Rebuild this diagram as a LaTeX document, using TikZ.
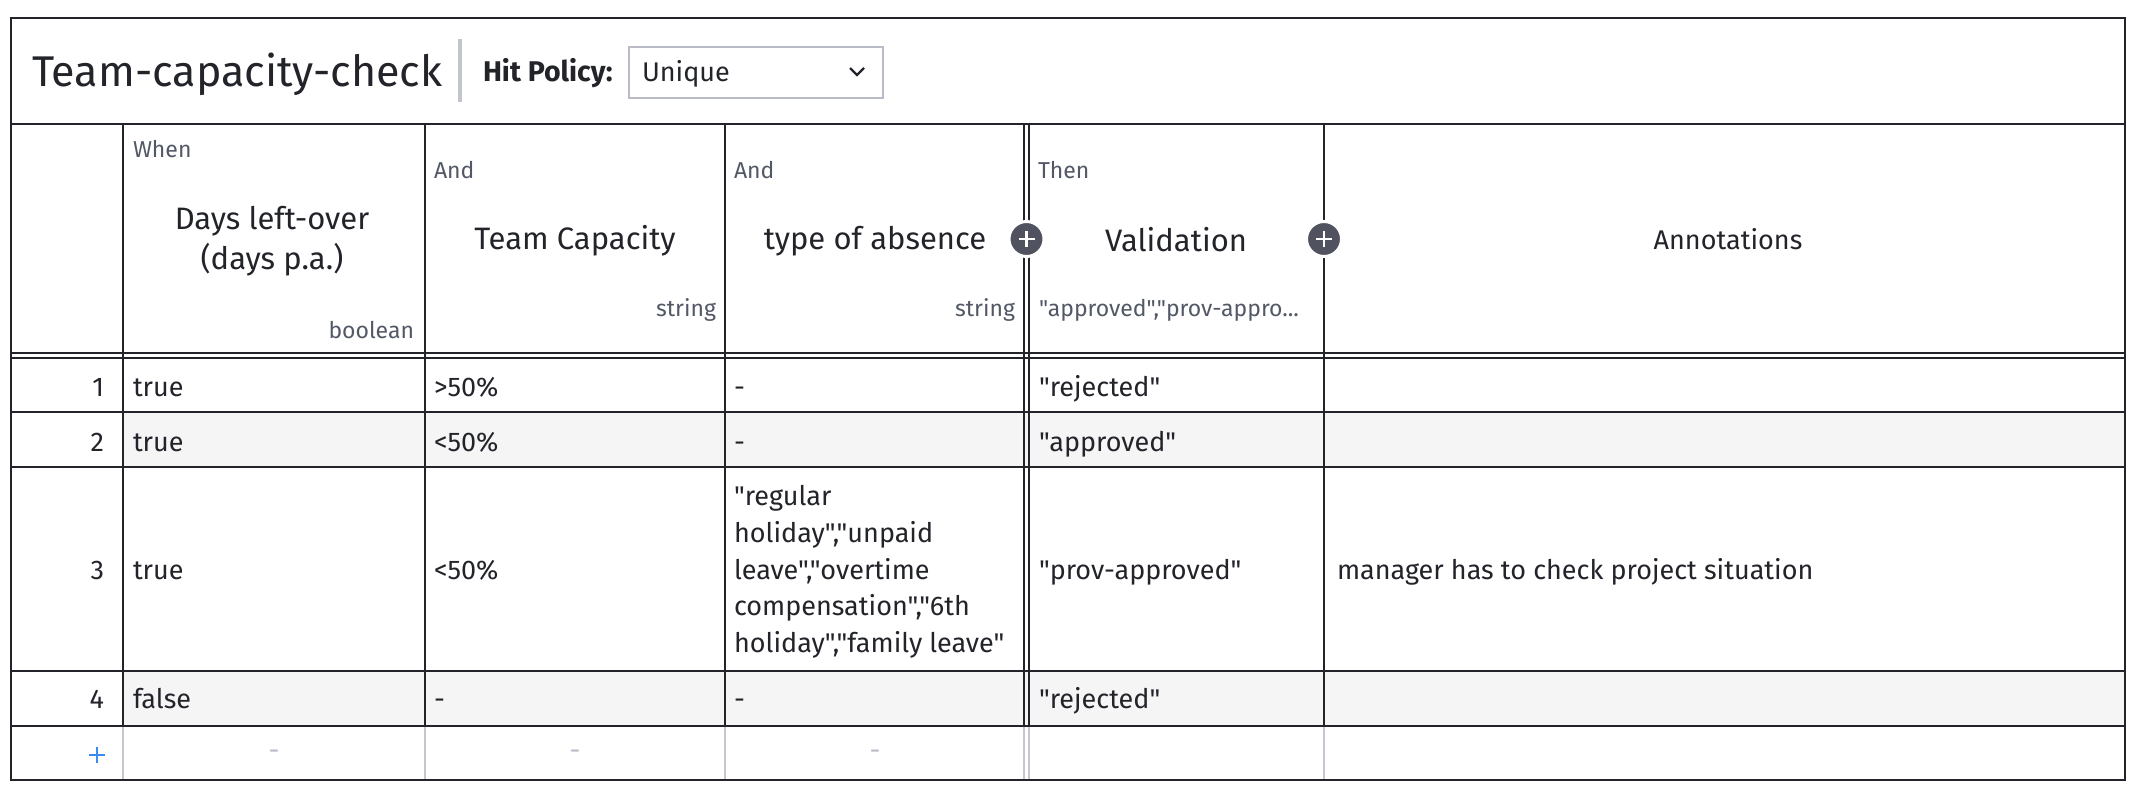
\documentclass[tikz,border=0pt]{standalone}
\usepackage{fontspec}
\setmainfont{Fira Sans}
\newfontfamily\uifont{Fira Sans}
\definecolor{ink}{HTML}{22242A}
\definecolor{muted}{HTML}{525866}
\definecolor{pluscol}{HTML}{50535F}
\definecolor{altrow}{HTML}{F5F5F5}
\definecolor{dropcol}{HTML}{B9BCC6}
\definecolor{barcol}{HTML}{C2C5CD}
\definecolor{faint}{HTML}{C4C7CE}
\definecolor{faintdash}{HTML}{B9BCC6}
\definecolor{addblue}{HTML}{3C8CF0}
\tikzset{
  txt/.style={inner sep=0pt, outer sep=0pt, text=ink},
  titlef/.style={txt, font=\uifont\fontsize{43}{50}\selectfont},
  headf/.style={txt, font=\uifont\fontsize{31}{36}\selectfont},
  bodyf/.style={txt, font=\uifont\fontsize{27}{32}\selectfont},
  smallf/.style={txt, text=muted, font=\uifont\fontsize{23}{28}\selectfont},
  boldf/.style={txt, font=\uifont\fontsize{28.5}{33}\selectfont\bfseries},
  gridline/.style={draw=ink, line width=1.7pt},
  faintline/.style={draw=faint, line width=1.6pt},
  pluscirc/.style={circle, fill=pluscol, draw=white, line width=3pt, minimum size=35pt, inner sep=0pt},
  plusbar/.style={draw=white, line width=2.6pt},
  dimdash/.style={txt, text=faintdash, font=\uifont\fontsize{27}{32}\selectfont},
}
\begin{document}
\begin{tikzpicture}[x=1pt, y=-1pt]
\useasboundingbox[fill=white] (0,0) rectangle (2142,794);
% alternate row fills
\fill[altrow] (123,412) rectangle (2125,467);
\fill[altrow] (123,671) rectangle (2125,726);
% frame and grid
\draw[gridline] (11,18) rectangle (2125,780);
\draw[gridline] (11,124) -- (2125,124);
\draw[gridline] (11,353) -- (2125,353);
\draw[gridline] (11,358) -- (2125,358);
\foreach \yy in {412,467,671,726} \draw[gridline] (11,\yy) -- (2125,\yy);
\foreach \xx in {123,425,725,1024,1029,1324} \draw[gridline] (\xx,124) -- (\xx,726);
\foreach \xx in {123,425,725,1024,1029,1324} \draw[faintline] (\xx,727) -- (\xx,779);
% title bar
\node[titlef, anchor=base west] (title) at (32,87) {Team-capacity-check};
\draw[barcol, line width=3.5pt] (460,39) -- (460,102);
\node[boldf, anchor=base west] (hitlabel) at (483,82) {Hit Policy:};
\node[draw=dropcol, line width=2pt, minimum width=254pt, minimum height=51pt, inner sep=0pt, anchor=north west] (drop) at (628,46) {};
\node[bodyf, anchor=base west] (unique) at (642,82) {Unique};
\coordinate (chev) at (857,75);
\draw[ink, line width=2.4pt] ([xshift=-7pt, yshift=7pt]chev) -- (chev) -- ([xshift=7pt, yshift=7pt]chev);
% header cells
\node[smallf, anchor=base west] (when) at (133,158) {When};
\node[headf, anchor=base] (days1) at (272,230) {Days left-over};
\node[headf, anchor=base] (days2) at (272,270) {(days p.a.)};
\node[smallf, anchor=base east] (tbool) at (414,338) {boolean};
\node[smallf, anchor=base west] (and1) at (434,179) {And};
\node[headf, anchor=base] (teamcap) at (575,250) {Team Capacity};
\node[smallf, anchor=base east] (tstr1) at (716,317) {string};
\node[smallf, anchor=base west] (and2) at (734,179) {And};
\node[headf, anchor=base] (absence) at (875,250) {type of absence};
\node[smallf, anchor=base east] (tstr2) at (1015,317) {string};
\node[smallf, anchor=base west] (then) at (1038,179) {Then};
\node[headf, anchor=base] (valid) at (1176,252) {Validation};
\node[smallf, anchor=base west] (tvalid) at (1039,317) {"approved","prov-appro...};
\node[bodyf, anchor=base] (annot) at (1728,250) {Annotations};
% plus circles
\node[pluscirc] (plusA) at (1026.5,239) {};
\node[pluscirc] (plusB) at (1324,239) {};
\foreach \p in {plusA,plusB} {
  \draw[plusbar] ([xshift=-8pt]\p.center) -- ([xshift=8pt]\p.center);
  \draw[plusbar] ([yshift=-8pt]\p.center) -- ([yshift=8pt]\p.center);
}
% row 1
\node[bodyf, anchor=base east] (n1) at (104,396) {1};
\node[bodyf, anchor=base west] (r1c1) at (133,396) {true};
\node[bodyf, anchor=base west] (r1c2) at (434,396) {>50\%};
\node[bodyf, anchor=base west] (r1c3) at (734,396) {-};
\node[bodyf, anchor=base west] (r1c4) at (1039,396) {"rejected"};
% row 2
\node[bodyf, anchor=base east] (n2) at (104,451) {2};
\node[bodyf, anchor=base west] (r2c1) at (133,451) {true};
\node[bodyf, anchor=base west] (r2c2) at (434,451) {<50\%};
\node[bodyf, anchor=base west] (r2c3) at (734,451) {-};
\node[bodyf, anchor=base west] (r2c4) at (1039,451) {"approved"};
% row 3
\node[bodyf, anchor=base east] (n3) at (104,579) {3};
\node[bodyf, anchor=base west] (r3c1) at (133,579) {true};
\node[bodyf, anchor=base west] (r3c2) at (434,579) {<50\%};
\node[bodyf, anchor=base west] (abs1) at (734,505) {"regular};
\node[bodyf, anchor=base west] (abs2) at (734,542) {holiday","unpaid};
\node[bodyf, anchor=base west] (abs3) at (734,579) {leave","overtime};
\node[bodyf, anchor=base west] (abs4) at (734,615) {compensation","6th};
\node[bodyf, anchor=base west] (abs5) at (734,652) {holiday","family leave"};
\node[bodyf, anchor=base west] (r3c4) at (1039,579) {"prov-approved"};
\node[bodyf, anchor=base west] (r3c5) at (1337,579) {manager has to check project situation};
% row 4
\node[bodyf, anchor=base east] (n4) at (104,708) {4};
\node[bodyf, anchor=base west] (r4c1) at (133,708) {false};
\node[bodyf, anchor=base west] (r4c2) at (434,708) {-};
\node[bodyf, anchor=base west] (r4c3) at (734,708) {-};
\node[bodyf, anchor=base west] (r4c4) at (1039,708) {"rejected"};
% add row
\coordinate (addplus) at (97,755);
\draw[addblue, line width=2.6pt] ([xshift=-8pt]addplus) -- ([xshift=8pt]addplus);
\draw[addblue, line width=2.6pt] ([yshift=-8pt]addplus) -- ([yshift=8pt]addplus);
\node[dimdash] (d1) at (274,755) {-};
\node[dimdash] (d2) at (575,755) {-};
\node[dimdash] (d3) at (875,755) {-};
\end{tikzpicture}
\end{document}
